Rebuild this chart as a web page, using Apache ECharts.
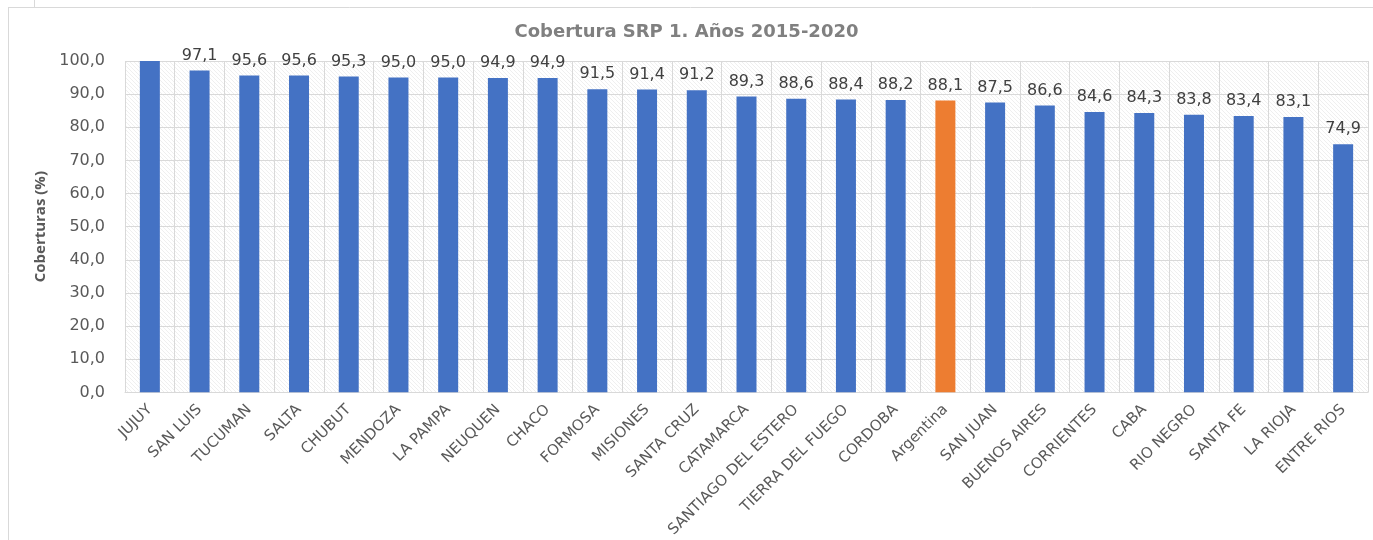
<!DOCTYPE html>
<html>
<head>
<meta charset="utf-8">
<script src="https://cdn.jsdelivr.net/npm/echarts@6/dist/echarts.min.js"></script>
<style>
  html, body { margin: 0; padding: 0; background: #fff; }
  #chart { width: 1373px; height: 540px; }
</style>
</head>
<body>
<div id="chart"></div>
<script>
const categories = [
  'JUJUY', 'SAN LUIS', 'TUCUMAN', 'SALTA', 'CHUBUT', 'MENDOZA', 'LA PAMPA', 'NEUQUEN', 'CHACO',
  'FORMOSA', 'MISIONES', 'SANTA CRUZ', 'CATAMARCA', 'SANTIAGO DEL ESTERO', 'TIERRA DEL FUEGO',
  'CORDOBA', 'Argentina', 'SAN JUAN', 'BUENOS AIRES', 'CORRIENTES', 'CABA', 'RIO NEGRO',
  'SANTA FE', 'LA RIOJA', 'ENTRE RIOS'
]
const coverage = [
  100.0, 97.1, 95.6, 95.6, 95.3, 95.0, 95.0, 94.9, 94.9,
  91.5, 91.4, 91.2, 89.3, 88.6, 88.4,
  88.2, 88.1, 87.5, 86.6, 84.6, 84.3, 83.8,
  83.4, 83.1, 74.9
]
const highlight = 'Argentina'
const hiddenLabel = ['JUJUY']

// faint diagonal hatch like the Excel pattern fill
function makeHatch() {
  const c = document.createElement('canvas')
  c.width = 4; c.height = 4
  const ctx = c.getContext('2d')
  ctx.fillStyle = '#ffffff'
  ctx.fillRect(0, 0, 4, 4)
  ctx.strokeStyle = '#ebebeb'
  ctx.lineWidth = 0.8
  ctx.beginPath()
  ctx.moveTo(0, 0); ctx.lineTo(4, 4)
  ctx.moveTo(-2, 2); ctx.lineTo(2, 6)
  ctx.moveTo(2, -2); ctx.lineTo(6, 2)
  ctx.stroke()
  return c
}

const chart = echarts.init(document.getElementById('chart'))
const gray = '#595959'
const wide = 'DejaVu Sans'

chart.setOption({
  animation: false,
  textStyle: { fontFamily: wide },
  title: {
    text: 'Cobertura SRP 1. Años 2015-2020',
    left: 'center', top: 18,
    textStyle: { fontSize: 18, fontWeight: 'bold', color: '#808080', fontFamily: wide },
  },
  graphic: [
    { type: 'line', shape: { x1: 8, y1: 7.5, x2: 1373, y2: 7.5 }, style: { stroke: '#d9d9d9', lineWidth: 1 } },
    { type: 'line', shape: { x1: 8.5, y1: 7, x2: 8.5, y2: 540 }, style: { stroke: '#d9d9d9', lineWidth: 1 } },
    { type: 'line', shape: { x1: 34.5, y1: 0, x2: 34.5, y2: 7 }, style: { stroke: '#d9d9d9', lineWidth: 1 } },
  ],
  grid: {
    left: 125, right: 5, top: 61, bottom: 146,
    show: true, borderWidth: 0,
    backgroundColor: { image: makeHatch(), repeat: 'repeat' },
  },
  xAxis: {
    type: 'category',
    data: categories,
    axisLine: { show: true, lineStyle: { color: '#d9d9d9', width: 1 } },
    axisTick: { show: false },
    splitLine: { show: true, interval: 0, lineStyle: { color: '#d9d9d9', width: 1 } },
    axisLabel: { interval: 0, rotate: 45, fontSize: 15, color: gray, margin: 15 },
  },
  yAxis: {
    type: 'value',
    min: 0, max: 100, interval: 10,
    name: 'Coberturas (%)',
    nameLocation: 'middle',
    nameGap: 76,
    nameTextStyle: { fontSize: 15, fontWeight: 'bold', color: gray, fontFamily: 'Open Sans' },
    axisLine: { show: false },
    axisTick: { show: false },
    splitLine: { show: true, lineStyle: { color: '#d9d9d9', width: 1 } },
    axisLabel: {
      fontSize: 16, color: gray, margin: 20,
      formatter: v => v.toFixed(1).replace('.', ','),
    },
  },
  series: [{
    type: 'bar',
    barWidth: 20,
    data: coverage.map((v, i) => ({
      value: v,
      itemStyle: { color: categories[i] === highlight ? '#ED7D31' : '#4472C4' },
      label: { show: !hiddenLabel.includes(categories[i]) },
    })),
    label: {
      show: true, position: 'top', distance: 7,
      fontSize: 16, color: '#404040',
      formatter: p => p.value.toFixed(1).replace('.', ','),
    },
  }],
})
</script>
</body>
</html>
